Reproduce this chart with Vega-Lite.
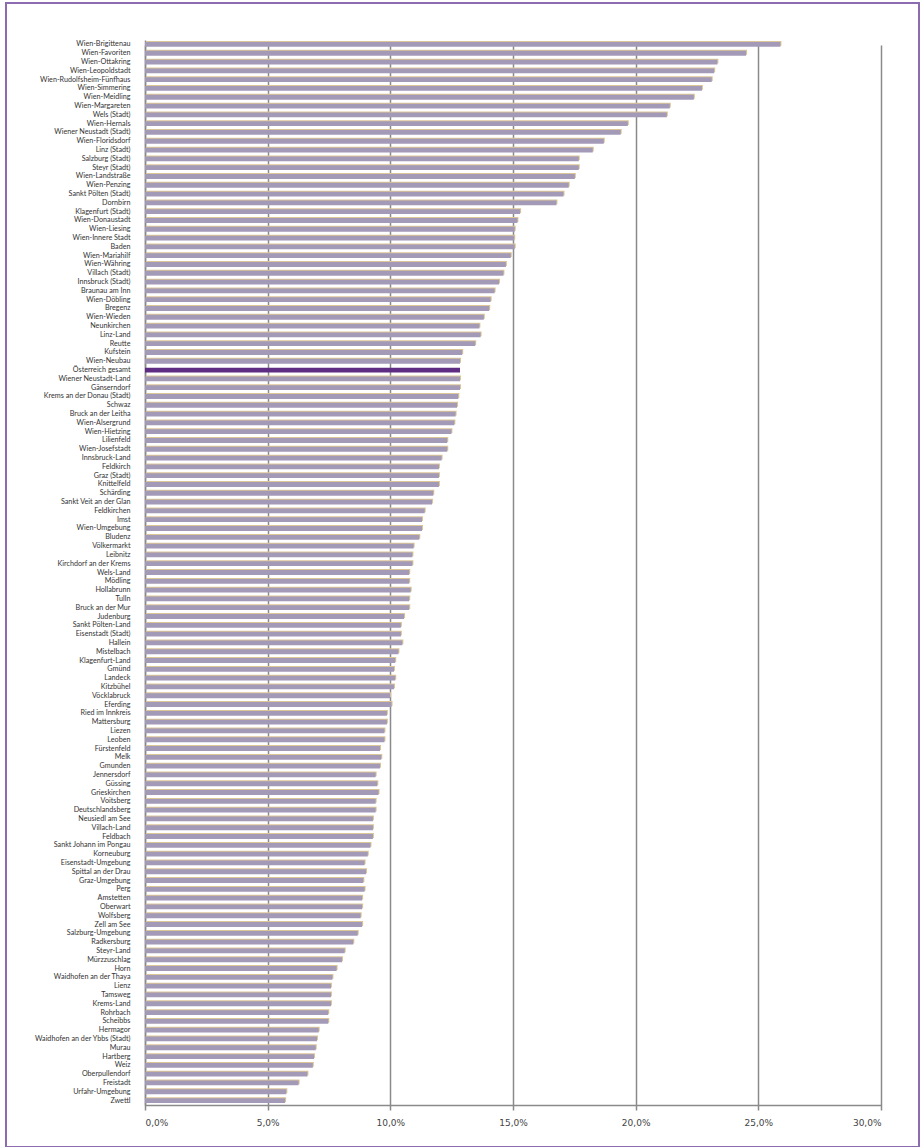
{
  "$schema": "https://vega.github.io/schema/vega-lite/v6.json",
  "autosize": {"type": "none"},
  "padding": {"left": 6, "top": 3, "right": 3, "bottom": 0},
  "width": 913,
  "height": 1144,
  "background": "white",
  "config": {"view": {"stroke": "#8c6bb1", "strokeWidth": 2}},
  "data": {"values": [
    {"bezirk": "Wien-Brigittenau", "wert": 25.9, "typ": "Bezirk"},
    {"bezirk": "Wien-Favoriten", "wert": 24.5, "typ": "Bezirk"},
    {"bezirk": "Wien-Ottakring", "wert": 23.33, "typ": "Bezirk"},
    {"bezirk": "Wien-Leopoldstadt", "wert": 23.2, "typ": "Bezirk"},
    {"bezirk": "Wien-Rudolfsheim-Fünfhaus", "wert": 23.1, "typ": "Bezirk"},
    {"bezirk": "Wien-Simmering", "wert": 22.7, "typ": "Bezirk"},
    {"bezirk": "Wien-Meidling", "wert": 22.37, "typ": "Bezirk"},
    {"bezirk": "Wien-Margareten", "wert": 21.39, "typ": "Bezirk"},
    {"bezirk": "Wels (Stadt)", "wert": 21.27, "typ": "Bezirk"},
    {"bezirk": "Wien-Hernals", "wert": 19.68, "typ": "Bezirk"},
    {"bezirk": "Wiener Neustadt (Stadt)", "wert": 19.39, "typ": "Bezirk"},
    {"bezirk": "Wien-Floridsdorf", "wert": 18.7, "typ": "Bezirk"},
    {"bezirk": "Linz (Stadt)", "wert": 18.25, "typ": "Bezirk"},
    {"bezirk": "Salzburg (Stadt)", "wert": 17.68, "typ": "Bezirk"},
    {"bezirk": "Steyr (Stadt)", "wert": 17.68, "typ": "Bezirk"},
    {"bezirk": "Wien-Landstraße", "wert": 17.52, "typ": "Bezirk"},
    {"bezirk": "Wien-Penzing", "wert": 17.27, "typ": "Bezirk"},
    {"bezirk": "Sankt Pölten (Stadt)", "wert": 17.06, "typ": "Bezirk"},
    {"bezirk": "Dornbirn", "wert": 16.77, "typ": "Bezirk"},
    {"bezirk": "Klagenfurt (Stadt)", "wert": 15.29, "typ": "Bezirk"},
    {"bezirk": "Wien-Donaustadt", "wert": 15.18, "typ": "Bezirk"},
    {"bezirk": "Wien-Liesing", "wert": 15.07, "typ": "Bezirk"},
    {"bezirk": "Wien-Innere Stadt", "wert": 15.05, "typ": "Bezirk"},
    {"bezirk": "Baden", "wert": 15.07, "typ": "Bezirk"},
    {"bezirk": "Wien-Mariahilf", "wert": 14.91, "typ": "Bezirk"},
    {"bezirk": "Wien-Währing", "wert": 14.71, "typ": "Bezirk"},
    {"bezirk": "Villach (Stadt)", "wert": 14.61, "typ": "Bezirk"},
    {"bezirk": "Innsbruck (Stadt)", "wert": 14.43, "typ": "Bezirk"},
    {"bezirk": "Braunau am Inn", "wert": 14.25, "typ": "Bezirk"},
    {"bezirk": "Wien-Döbling", "wert": 14.09, "typ": "Bezirk"},
    {"bezirk": "Bregenz", "wert": 14.03, "typ": "Bezirk"},
    {"bezirk": "Wien-Wieden", "wert": 13.81, "typ": "Bezirk"},
    {"bezirk": "Neunkirchen", "wert": 13.63, "typ": "Bezirk"},
    {"bezirk": "Linz-Land", "wert": 13.68, "typ": "Bezirk"},
    {"bezirk": "Reutte", "wert": 13.46, "typ": "Bezirk"},
    {"bezirk": "Kufstein", "wert": 12.93, "typ": "Bezirk"},
    {"bezirk": "Wien-Neubau", "wert": 12.84, "typ": "Bezirk"},
    {"bezirk": "Österreich gesamt", "wert": 12.84, "typ": "Österreich"},
    {"bezirk": "Wiener Neustadt-Land", "wert": 12.84, "typ": "Bezirk"},
    {"bezirk": "Gänserndorf", "wert": 12.84, "typ": "Bezirk"},
    {"bezirk": "Krems an der Donau (Stadt)", "wert": 12.77, "typ": "Bezirk"},
    {"bezirk": "Schwaz", "wert": 12.72, "typ": "Bezirk"},
    {"bezirk": "Bruck an der Leitha", "wert": 12.66, "typ": "Bezirk"},
    {"bezirk": "Wien-Alsergrund", "wert": 12.61, "typ": "Bezirk"},
    {"bezirk": "Wien-Hietzing", "wert": 12.49, "typ": "Bezirk"},
    {"bezirk": "Lilienfeld", "wert": 12.32, "typ": "Bezirk"},
    {"bezirk": "Wien-Josefstadt", "wert": 12.32, "typ": "Bezirk"},
    {"bezirk": "Innsbruck-Land", "wert": 12.09, "typ": "Bezirk"},
    {"bezirk": "Feldkirch", "wert": 11.98, "typ": "Bezirk"},
    {"bezirk": "Graz (Stadt)", "wert": 11.98, "typ": "Bezirk"},
    {"bezirk": "Knittelfeld", "wert": 11.98, "typ": "Bezirk"},
    {"bezirk": "Schärding", "wert": 11.75, "typ": "Bezirk"},
    {"bezirk": "Sankt Veit an der Glan", "wert": 11.7, "typ": "Bezirk"},
    {"bezirk": "Feldkirchen", "wert": 11.4, "typ": "Bezirk"},
    {"bezirk": "Imst", "wert": 11.29, "typ": "Bezirk"},
    {"bezirk": "Wien-Umgebung", "wert": 11.29, "typ": "Bezirk"},
    {"bezirk": "Bludenz", "wert": 11.18, "typ": "Bezirk"},
    {"bezirk": "Völkermarkt", "wert": 10.95, "typ": "Bezirk"},
    {"bezirk": "Leibnitz", "wert": 10.9, "typ": "Bezirk"},
    {"bezirk": "Kirchdorf an der Krems", "wert": 10.9, "typ": "Bezirk"},
    {"bezirk": "Wels-Land", "wert": 10.77, "typ": "Bezirk"},
    {"bezirk": "Mödling", "wert": 10.77, "typ": "Bezirk"},
    {"bezirk": "Hollabrunn", "wert": 10.83, "typ": "Bezirk"},
    {"bezirk": "Tulln", "wert": 10.77, "typ": "Bezirk"},
    {"bezirk": "Bruck an der Mur", "wert": 10.77, "typ": "Bezirk"},
    {"bezirk": "Judenburg", "wert": 10.56, "typ": "Bezirk"},
    {"bezirk": "Sankt Pölten-Land", "wert": 10.43, "typ": "Bezirk"},
    {"bezirk": "Eisenstadt (Stadt)", "wert": 10.43, "typ": "Bezirk"},
    {"bezirk": "Hallein", "wert": 10.49, "typ": "Bezirk"},
    {"bezirk": "Mistelbach", "wert": 10.33, "typ": "Bezirk"},
    {"bezirk": "Klagenfurt-Land", "wert": 10.2, "typ": "Bezirk"},
    {"bezirk": "Gmünd", "wert": 10.15, "typ": "Bezirk"},
    {"bezirk": "Landeck", "wert": 10.2, "typ": "Bezirk"},
    {"bezirk": "Kitzbühel", "wert": 10.15, "typ": "Bezirk"},
    {"bezirk": "Vöcklabruck", "wert": 9.99, "typ": "Bezirk"},
    {"bezirk": "Eferding", "wert": 10.05, "typ": "Bezirk"},
    {"bezirk": "Ried im Innkreis", "wert": 9.86, "typ": "Bezirk"},
    {"bezirk": "Mattersburg", "wert": 9.86, "typ": "Bezirk"},
    {"bezirk": "Liezen", "wert": 9.76, "typ": "Bezirk"},
    {"bezirk": "Leoben", "wert": 9.76, "typ": "Bezirk"},
    {"bezirk": "Fürstenfeld", "wert": 9.58, "typ": "Bezirk"},
    {"bezirk": "Melk", "wert": 9.63, "typ": "Bezirk"},
    {"bezirk": "Gmunden", "wert": 9.58, "typ": "Bezirk"},
    {"bezirk": "Jennersdorf", "wert": 9.4, "typ": "Bezirk"},
    {"bezirk": "Güssing", "wert": 9.47, "typ": "Bezirk"},
    {"bezirk": "Grieskirchen", "wert": 9.52, "typ": "Bezirk"},
    {"bezirk": "Voitsberg", "wert": 9.4, "typ": "Bezirk"},
    {"bezirk": "Deutschlandsberg", "wert": 9.4, "typ": "Bezirk"},
    {"bezirk": "Neusiedl am See", "wert": 9.29, "typ": "Bezirk"},
    {"bezirk": "Villach-Land", "wert": 9.29, "typ": "Bezirk"},
    {"bezirk": "Feldbach", "wert": 9.29, "typ": "Bezirk"},
    {"bezirk": "Sankt Johann im Pongau", "wert": 9.19, "typ": "Bezirk"},
    {"bezirk": "Korneuburg", "wert": 9.08, "typ": "Bezirk"},
    {"bezirk": "Eisenstadt-Umgebung", "wert": 8.95, "typ": "Bezirk"},
    {"bezirk": "Spittal an der Drau", "wert": 9.01, "typ": "Bezirk"},
    {"bezirk": "Graz-Umgebung", "wert": 8.9, "typ": "Bezirk"},
    {"bezirk": "Perg", "wert": 8.95, "typ": "Bezirk"},
    {"bezirk": "Amstetten", "wert": 8.85, "typ": "Bezirk"},
    {"bezirk": "Oberwart", "wert": 8.85, "typ": "Bezirk"},
    {"bezirk": "Wolfsberg", "wert": 8.79, "typ": "Bezirk"},
    {"bezirk": "Zell am See", "wert": 8.85, "typ": "Bezirk"},
    {"bezirk": "Salzburg-Umgebung", "wert": 8.67, "typ": "Bezirk"},
    {"bezirk": "Radkersburg", "wert": 8.49, "typ": "Bezirk"},
    {"bezirk": "Steyr-Land", "wert": 8.14, "typ": "Bezirk"},
    {"bezirk": "Mürzzuschlag", "wert": 8.03, "typ": "Bezirk"},
    {"bezirk": "Horn", "wert": 7.81, "typ": "Bezirk"},
    {"bezirk": "Waidhofen an der Thaya", "wert": 7.64, "typ": "Bezirk"},
    {"bezirk": "Lienz", "wert": 7.58, "typ": "Bezirk"},
    {"bezirk": "Tamsweg", "wert": 7.58, "typ": "Bezirk"},
    {"bezirk": "Krems-Land", "wert": 7.58, "typ": "Bezirk"},
    {"bezirk": "Rohrbach", "wert": 7.47, "typ": "Bezirk"},
    {"bezirk": "Scheibbs", "wert": 7.47, "typ": "Bezirk"},
    {"bezirk": "Hermagor", "wert": 7.08, "typ": "Bezirk"},
    {"bezirk": "Waidhofen an der Ybbs (Stadt)", "wert": 7.01, "typ": "Bezirk"},
    {"bezirk": "Murau", "wert": 6.96, "typ": "Bezirk"},
    {"bezirk": "Hartberg", "wert": 6.89, "typ": "Bezirk"},
    {"bezirk": "Weiz", "wert": 6.84, "typ": "Bezirk"},
    {"bezirk": "Oberpullendorf", "wert": 6.62, "typ": "Bezirk"},
    {"bezirk": "Freistadt", "wert": 6.26, "typ": "Bezirk"},
    {"bezirk": "Urfahr-Umgebung", "wert": 5.76, "typ": "Bezirk"},
    {"bezirk": "Zwettl", "wert": 5.71, "typ": "Bezirk"}
  ]},
  "encoding": {
    "y": {
      "field": "bezirk", "type": "nominal", "sort": null,
      "scale": {"range": [37, 1102], "paddingInner": 0.45, "paddingOuter": 0.23},
      "axis": {
        "title": null, "orient": "left", "offset": -139, "ticks": false, "grid": false,
        "domainColor": "#8a8a8a", "domainWidth": 1.5,
        "labelFont": "Lato", "labelFontSize": 7.2, "labelColor": "#333333",
        "labelPadding": 15, "labelLimit": 200, "labelOverlap": false
      }
    },
    "x": {
      "field": "wert", "type": "quantitative",
      "scale": {"domain": [0, 30], "range": [139, 875], "nice": false},
      "axis": {
        "title": null, "orient": "bottom", "offset": -42,
        "values": [0, 5, 10, 15, 20, 25, 30],
        "grid": true, "gridColor": "#8a8a8a", "gridWidth": 1.5,
        "ticks": false, "domainColor": "#8a8a8a", "domainWidth": 1.5,
        "labelFont": "DejaVu Sans", "labelFontSize": 9, "labelColor": "#444444",
        "labelPadding": 13,
        "labelExpr": "replace(format(datum.value, '.1f'), '.', ',') + '%'"
      }
    }
  },
  "layer": [
    {
      "mark": {"type": "bar", "xOffset": 1, "yOffset": -1},
      "encoding": {
        "color": {
          "condition": {"test": "datum.typ === 'Österreich'", "value": "transparent"},
          "value": "#dcc597"
        }
      }
    },
    {
      "mark": {"type": "bar"},
      "encoding": {
        "color": {
          "field": "typ", "type": "nominal",
          "scale": {"domain": ["Bezirk", "Österreich"], "range": ["#a39ab8", "#5e2d83"]},
          "legend": null
        }
      }
    }
  ]
}
